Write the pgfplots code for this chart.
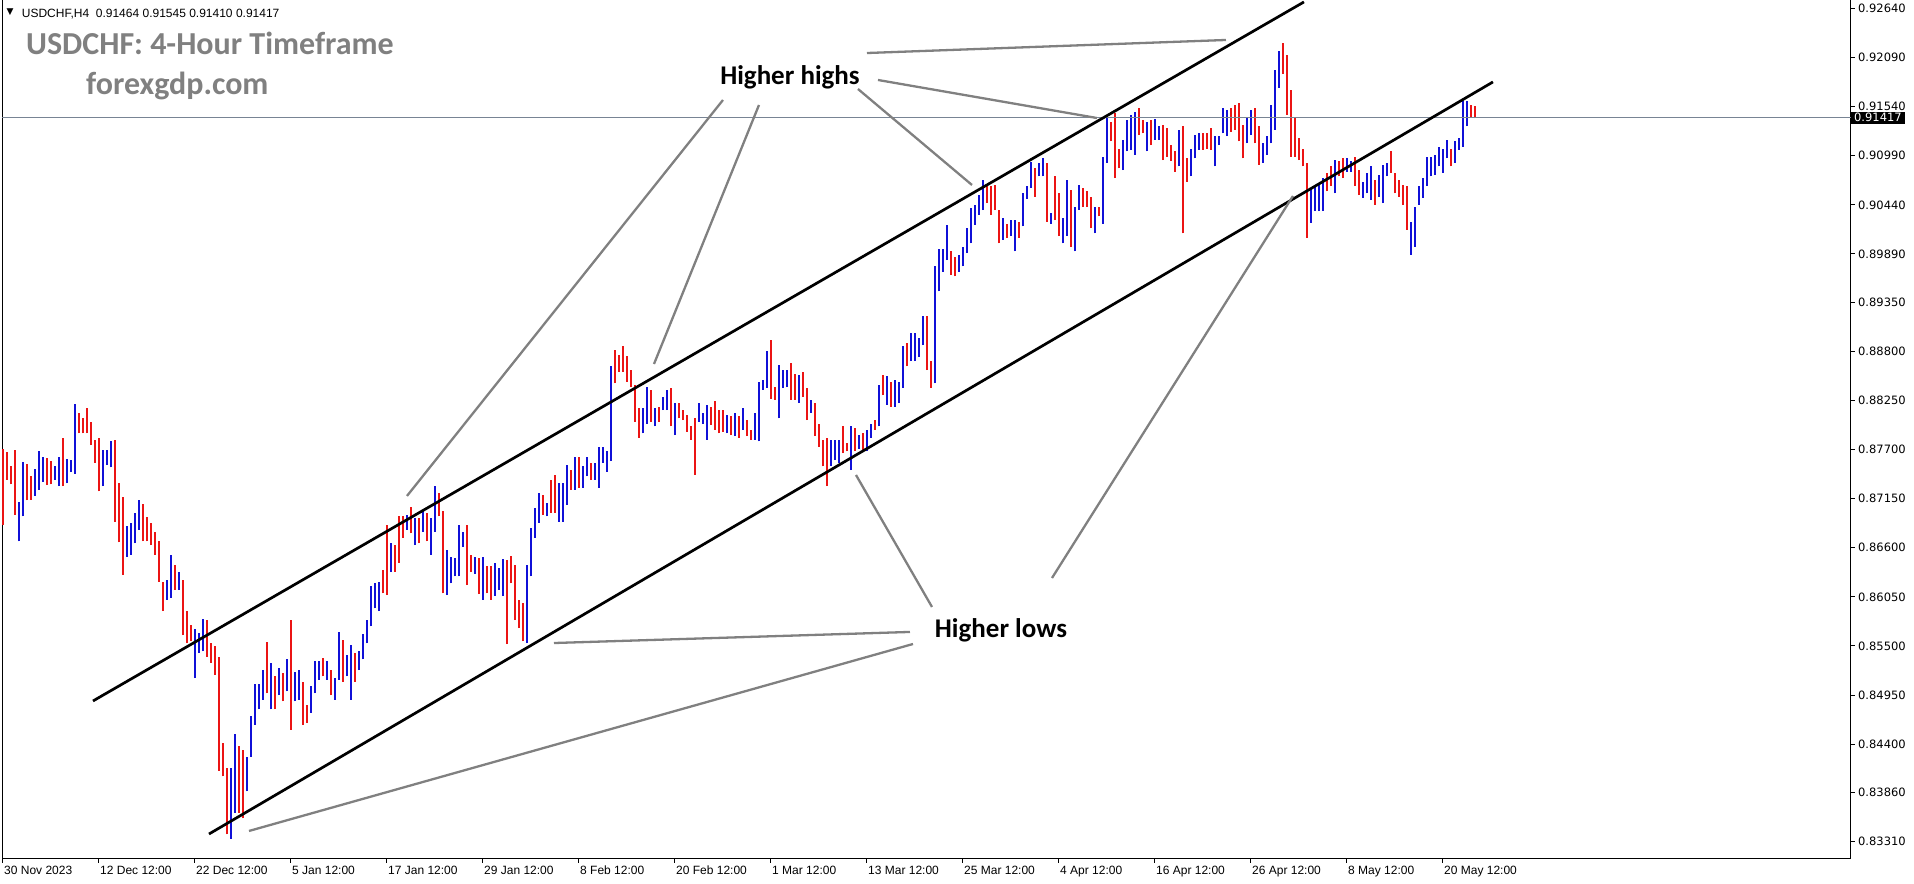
\documentclass[border=0pt]{standalone}
\usepackage{fontspec}
\setmainfont{Liberation Sans}
\newfontfamily\scalefont{DejaVu Sans}
\newfontfamily\notefont{Carlito}
\usepackage{pgfplots}
\usepackage{pgfplotstable}
\pgfplotsset{compat=1.18}

\definecolor{upblue}{RGB}{16,16,215}
\definecolor{downred}{RGB}{235,20,20}
\definecolor{notegray}{RGB}{128,128,128}
\definecolor{askline}{RGB}{120,132,148}

% USDCHF H4, one row per two bars: x, high, low, up (1) / down (0)
\pgfplotstableread{
x hi lo up
0 0.8771 0.8685 0
2 0.8767 0.8736 0
4 0.8752 0.8731 0
6 0.8770 0.8697 0
8 0.8711 0.8667 1
10 0.8756 0.8695 1
12 0.8754 0.8713 0
14 0.8740 0.8714 0
16 0.8748 0.8718 1
18 0.8768 0.8725 1
20 0.8762 0.8734 1
22 0.8760 0.8730 0
24 0.8757 0.8731 0
26 0.8751 0.8736 1
28 0.8762 0.8729 1
30 0.8783 0.8729 0
32 0.8759 0.8732 1
34 0.8758 0.8745 1
36 0.8821 0.8743 1
38 0.8811 0.8788 0
40 0.8805 0.8788 0
42 0.8816 0.8788 0
44 0.8801 0.8775 0
46 0.8781 0.8755 0
48 0.8783 0.8723 0
50 0.8770 0.8729 1
52 0.8770 0.8753 1
54 0.8779 0.8750 1
56 0.8781 0.8689 0
58 0.8732 0.8666 0
60 0.8717 0.8630 0
62 0.8684 0.8650 1
64 0.8688 0.8652 1
66 0.8699 0.8665 1
68 0.8713 0.8680 1
70 0.8709 0.8667 0
72 0.8694 0.8667 0
74 0.8688 0.8663 0
76 0.8678 0.8652 0
78 0.8667 0.8622 0
80 0.8622 0.8589 0
82 0.8624 0.8602 1
84 0.8652 0.8604 1
86 0.8641 0.8613 0
88 0.8633 0.8613 1
90 0.8624 0.8562 0
92 0.8589 0.8553 0
94 0.8574 0.8555 0
96 0.8569 0.8514 1
98 0.8564 0.8542 1
100 0.8580 0.8544 1
102 0.8579 0.8538 0
104 0.8553 0.8531 0
106 0.8550 0.8518 0
108 0.8538 0.8410 0
110 0.8441 0.8404 0
112 0.8413 0.8339 0
114 0.8413 0.8334 1
116 0.8451 0.8363 1
118 0.8438 0.8363 0
120 0.8434 0.8357 0
122 0.8426 0.8387 1
124 0.8471 0.8426 1
126 0.8507 0.8462 1
128 0.8507 0.8479 1
130 0.8523 0.8490 1
132 0.8555 0.8497 0
134 0.8531 0.8479 1
136 0.8516 0.8479 0
138 0.8525 0.8495 1
140 0.8520 0.8488 0
142 0.8535 0.8499 1
144 0.8579 0.8456 0
146 0.8521 0.8488 1
148 0.8523 0.8490 1
150 0.8510 0.8462 0
152 0.8484 0.8464 0
154 0.8505 0.8475 1
156 0.8533 0.8497 1
158 0.8533 0.8512 1
160 0.8536 0.8516 0
162 0.8533 0.8512 1
164 0.8523 0.8495 0
166 0.8514 0.8490 1
168 0.8566 0.8512 1
170 0.8557 0.8510 0
172 0.8540 0.8516 1
174 0.8551 0.8490 1
176 0.8542 0.8510 0
178 0.8544 0.8523 1
180 0.8563 0.8535 1
182 0.8579 0.8553 1
184 0.8617 0.8572 1
186 0.8620 0.8592 1
188 0.8622 0.8589 1
190 0.8635 0.8609 0
192 0.8686 0.8607 0
194 0.8665 0.8633 1
196 0.8663 0.8633 0
198 0.8695 0.8643 0
200 0.8695 0.8671 0
202 0.8697 0.8680 1
204 0.8706 0.8676 0
206 0.8693 0.8663 1
208 0.8693 0.8665 0
210 0.8701 0.8678 1
212 0.8699 0.8667 0
214 0.8693 0.8652 1
216 0.8729 0.8678 1
218 0.8721 0.8695 0
220 0.8701 0.8609 0
222 0.8658 0.8607 1
224 0.8650 0.8620 1
226 0.8648 0.8628 1
228 0.8686 0.8628 1
230 0.8678 0.8661 1
232 0.8686 0.8618 0
234 0.8652 0.8633 0
236 0.8650 0.8631 1
238 0.8648 0.8608 0
240 0.8650 0.8602 1
242 0.8639 0.8609 0
244 0.8640 0.8602 0
246 0.8643 0.8606 1
248 0.8637 0.8613 1
250 0.8647 0.8606 1
252 0.8646 0.8552 0
254 0.8651 0.8620 0
256 0.8641 0.8579 0
258 0.8602 0.8570 0
260 0.8598 0.8555 0
262 0.8641 0.8553 1
264 0.8682 0.8628 1
266 0.8704 0.8671 1
268 0.8721 0.8688 1
270 0.8719 0.8697 0
272 0.8710 0.8695 1
274 0.8736 0.8699 0
276 0.8742 0.8699 0
278 0.8732 0.8689 1
280 0.8732 0.8689 1
282 0.8753 0.8708 1
284 0.8747 0.8725 0
286 0.8762 0.8725 1
288 0.8762 0.8727 0
290 0.8751 0.8727 1
292 0.8762 0.8740 1
294 0.8755 0.8736 0
296 0.8755 0.8736 1
298 0.8773 0.8727 1
300 0.8773 0.8755 1
302 0.8768 0.8745 1
304 0.8863 0.8757 1
306 0.8882 0.8844 0
308 0.8876 0.8857 0
310 0.8886 0.8857 0
312 0.8875 0.8846 0
314 0.8859 0.8840 0
316 0.8842 0.8801 0
318 0.8816 0.8783 0
320 0.8816 0.8788 1
322 0.8840 0.8799 1
324 0.8837 0.8801 0
326 0.8816 0.8796 1
328 0.8818 0.8801 0
330 0.8829 0.8814 1
332 0.8837 0.8814 1
334 0.8839 0.8796 0
336 0.8822 0.8786 1
338 0.8822 0.8805 0
340 0.8814 0.8803 0
342 0.8809 0.8790 0
344 0.8796 0.8781 0
346 0.8805 0.8742 0
348 0.8822 0.8801 1
350 0.8811 0.8799 1
352 0.8820 0.8781 1
354 0.8818 0.8798 0
356 0.8824 0.8792 0
358 0.8814 0.8788 0
360 0.8814 0.8790 0
362 0.8809 0.8788 1
364 0.8807 0.8786 0
366 0.8811 0.8785 1
368 0.8807 0.8783 0
370 0.8816 0.8792 1
372 0.8803 0.8785 0
374 0.8792 0.8781 0
376 0.8811 0.8781 1
378 0.8846 0.8779 1
380 0.8848 0.8837 1
382 0.8880 0.8839 1
384 0.8893 0.8827 0
386 0.8840 0.8826 0
388 0.8865 0.8805 1
390 0.8859 0.8839 1
392 0.8859 0.8840 1
394 0.8867 0.8826 0
396 0.8855 0.8826 0
398 0.8854 0.8822 1
400 0.8857 0.8829 0
402 0.8839 0.8803 0
404 0.8826 0.8811 1
406 0.8822 0.8785 0
408 0.8799 0.8773 0
410 0.8781 0.8751 0
412 0.8783 0.8729 0
414 0.8781 0.8751 1
416 0.8781 0.8758 1
418 0.8781 0.8755 1
420 0.8796 0.8766 0
422 0.8777 0.8768 0
424 0.8796 0.8747 1
426 0.8794 0.8768 0
428 0.8786 0.8771 1
430 0.8788 0.8768 0
432 0.8792 0.8768 1
434 0.8799 0.8783 1
436 0.8803 0.8792 0
438 0.8842 0.8796 1
440 0.8854 0.8831 0
442 0.8852 0.8820 1
444 0.8846 0.8818 0
446 0.8848 0.8818 1
448 0.8846 0.8822 1
450 0.8886 0.8839 1
452 0.8889 0.8863 0
454 0.8901 0.8869 1
456 0.8901 0.8869 1
458 0.8895 0.8874 1
460 0.8919 0.8887 1
462 0.8919 0.8859 0
464 0.8869 0.8839 0
466 0.8975 0.8844 1
468 0.8995 0.8947 1
470 0.8995 0.8969 1
472 0.9022 0.8982 1
474 0.8992 0.8966 0
476 0.8986 0.8964 0
478 0.8988 0.8969 1
480 0.8997 0.8975 1
482 0.9018 0.8990 1
484 0.9040 0.9001 1
486 0.9044 0.9022 1
488 0.9055 0.9033 1
490 0.9072 0.9038 1
492 0.9066 0.9046 0
494 0.9065 0.9033 0
496 0.9066 0.9038 0
498 0.9038 0.9001 0
500 0.9029 0.9005 1
502 0.9023 0.9007 0
504 0.9027 0.9009 1
506 0.9027 0.8992 1
508 0.9025 0.9007 0
510 0.9057 0.9020 1
512 0.9065 0.9051 1
514 0.9092 0.9063 1
516 0.9085 0.9053 0
518 0.9091 0.9076 1
520 0.9096 0.9076 1
522 0.9091 0.9025 0
524 0.9035 0.9023 1
526 0.9076 0.9027 0
528 0.9057 0.9009 0
530 0.9029 0.9001 1
532 0.9072 0.9009 1
534 0.9061 0.8997 0
536 0.9042 0.8992 1
538 0.9066 0.9038 1
540 0.9063 0.9042 0
542 0.9059 0.9042 0
544 0.9053 0.9018 0
546 0.9042 0.9012 1
548 0.9042 0.9031 0
550 0.9098 0.9023 1
552 0.9145 0.9091 1
554 0.9137 0.9115 0
556 0.9147 0.9074 0
558 0.9107 0.9085 0
560 0.9117 0.9083 1
562 0.9139 0.9104 1
564 0.9145 0.9106 1
566 0.9148 0.9100 1
568 0.9152 0.9122 0
570 0.9139 0.9124 0
572 0.9137 0.9104 1
574 0.9139 0.9111 0
576 0.9140 0.9117 1
578 0.9132 0.9117 1
580 0.9134 0.9094 0
582 0.9130 0.9098 0
584 0.9111 0.9093 0
586 0.9104 0.9081 0
588 0.9128 0.9087 1
590 0.9132 0.9012 0
592 0.9096 0.9070 0
594 0.9107 0.9076 1
596 0.9122 0.9096 1
598 0.9124 0.9106 1
600 0.9124 0.9106 0
602 0.9124 0.9107 0
604 0.9130 0.9106 0
606 0.9121 0.9087 1
608 0.9121 0.9111 1
610 0.9153 0.9124 1
612 0.9150 0.9121 1
614 0.9152 0.9126 0
616 0.9156 0.9128 0
618 0.9158 0.9115 0
620 0.9134 0.9096 0
622 0.9141 0.9113 1
624 0.9150 0.9122 1
626 0.9152 0.9113 0
628 0.9132 0.9089 0
630 0.9113 0.9091 1
632 0.9121 0.9100 1
634 0.9156 0.9113 1
636 0.9195 0.9128 1
638 0.9216 0.9175 1
640 0.9225 0.9191 0
642 0.9212 0.9145 0
644 0.9173 0.9098 0
646 0.9141 0.9098 0
648 0.9119 0.9094 0
650 0.9107 0.9087 0
652 0.9091 0.9007 0
654 0.9063 0.9024 1
656 0.9065 0.9037 1
658 0.9068 0.9037 1
660 0.9074 0.9037 1
662 0.9080 0.9059 0
664 0.9087 0.9065 0
666 0.9094 0.9057 1
668 0.9093 0.9076 0
670 0.9096 0.9074 0
672 0.9096 0.9081 1
674 0.9093 0.9081 1
676 0.9098 0.9065 0
678 0.9083 0.9055 0
680 0.9070 0.9052 1
682 0.9080 0.9057 1
684 0.9087 0.9050 1
686 0.9072 0.9044 0
688 0.9078 0.9053 1
690 0.9089 0.9046 1
692 0.9091 0.9076 1
694 0.9104 0.9080 0
696 0.9080 0.9057 0
698 0.9072 0.9053 0
700 0.9066 0.9044 0
702 0.9065 0.9016 0
704 0.9025 0.8988 1
706 0.9042 0.8997 1
708 0.9065 0.9044 1
710 0.9074 0.9052 1
712 0.9098 0.9065 1
714 0.9098 0.9076 1
716 0.9100 0.9078 1
718 0.9109 0.9087 1
720 0.9107 0.9080 1
722 0.9117 0.9096 1
724 0.9107 0.9087 0
726 0.9115 0.9091 1
728 0.9119 0.9106 1
730 0.9160 0.9109 1
732 0.9160 0.9132 1
734 0.9156 0.9142 0
736 0.9155 0.9141 0
}\bars

\begin{document}
\begin{tikzpicture}
\useasboundingbox (0,0) rectangle (1914bp,884bp);
\begin{axis}[
  at={(2bp,25bp)}, anchor=south west,
  scale only axis, width=1849bp, height=859bp,
  xmin=-0.5, xmax=924, ymin=0.83114, ymax=0.92735,
  clip=false,
  axis line style={line width=1bp},
  tick align=outside, major tick length=4bp,
  every tick/.style={black, line width=1bp},
  xtick pos=bottom, ytick pos=right, yticklabel pos=right,
  xtick={0,48,...,720},
  xticklabels={30 Nov 2023, 12 Dec 12:00, 22 Dec 12:00, 5 Jan 12:00, 17 Jan 12:00, 29 Jan 12:00, 8 Feb 12:00, 20 Feb 12:00, 1 Mar 12:00, 13 Mar 12:00, 25 Mar 12:00, 4 Apr 12:00, 16 Apr 12:00, 26 Apr 12:00, 8 May 12:00, 20 May 12:00},
  xticklabel style={font=\fontsize{12bp}{12bp}\selectfont, anchor=north west, inner sep=0pt, xshift=1bp, yshift=-3bp},
  ytick={0.8331,0.8386,0.8440,0.8495,0.8550,0.8605,0.8660,0.8715,0.8770,0.8825,0.8880,0.8935,0.8989,0.9044,0.9099,0.9154,0.9209,0.9264},
  scaled y ticks=false,
  yticklabel style={font=\scalefont\fontsize{11.5bp}{12bp}\selectfont, anchor=west, inner sep=0pt, xshift=3bp,
    /pgf/number format/.cd, fixed, fixed zerofill, precision=5, assume math mode=true},
]
% bars: vertical low-high strokes, no markers
\addplot[draw=none, mark=none, forget plot,
  restrict expr to domain={\thisrow{up}}{0.5:1.5},
  error bars/.cd, y dir=plus, y explicit, error mark=none,
  error bar style={draw=upblue, line width=1.8bp}]
  table[x=x, y=lo, y error expr=\thisrow{hi}-\thisrow{lo}] {\bars};
\addplot[draw=none, mark=none, forget plot,
  restrict expr to domain={\thisrow{up}}{-0.5:0.5},
  error bars/.cd, y dir=plus, y explicit, error mark=none,
  error bar style={draw=downred, line width=1.8bp}]
  table[x=x, y=lo, y error expr=\thisrow{hi}-\thisrow{lo}] {\bars};

% current price line
\addplot[askline, line width=1bp] coordinates {(-0.5,0.91417) (924,0.91417)};

% channel
\addplot[black, line width=2.7bp] coordinates {(45,0.84884) (650.5,0.92713)};
\addplot[black, line width=2.7bp] coordinates {(103,0.83394) (745,0.91817)};

% pointers
\addplot[notegray, line width=2.3bp] coordinates {(432,0.92141) (611.5,0.92287)};
\addplot[notegray, line width=2.3bp] coordinates {(437.5,0.91839) (547,0.91413)};
\addplot[notegray, line width=2.3bp] coordinates {(427.5,0.91738) (484.5,0.90663)};
\addplot[notegray, line width=2.3bp] coordinates {(360,0.91615) (202,0.87180)};
\addplot[notegray, line width=2.3bp] coordinates {(378,0.91559) (325.5,0.88658)};
\addplot[notegray, line width=2.3bp] coordinates {(453.5,0.85657) (275.5,0.85533)};
\addplot[notegray, line width=2.3bp] coordinates {(455,0.85522) (123,0.83428)};
\addplot[notegray, line width=2.3bp] coordinates {(464.5,0.85937) (426.5,0.87415)};
\addplot[notegray, line width=2.3bp] coordinates {(524.5,0.86261) (645,0.90540)};

\node[font=\notefont\bfseries\fontsize{27bp}{27bp}\selectfont] at (axis cs:393.5,0.91873) {Higher highs};
\node[font=\notefont\bfseries\fontsize{27bp}{27bp}\selectfont] at (axis cs:499,0.85679) {Higher lows};

\node[fill=black, text=white, anchor=west, inner xsep=3bp, inner ysep=1.5bp,
  font=\scalefont\fontsize{11.5bp}{12bp}\selectfont] at (axis cs:924,0.91417) {0.91417};
\end{axis}

\node[font=\scalefont\fontsize{9bp}{9bp}\selectfont] at (10bp,872bp) {▼};
\node[anchor=base west, inner sep=0pt, font=\fontsize{12bp}{12bp}\selectfont] at (21.7bp,866.7bp)
  {USDCHF,H4\ \ 0.91464 0.91545 0.91410 0.91417};
\node[anchor=base west, inner sep=0pt, text=notegray, font=\notefont\bfseries\fontsize{32bp}{32bp}\selectfont] at (26bp,829bp)
  {USDCHF: 4-Hour Timeframe};
\node[anchor=base west, inner sep=0pt, text=notegray, font=\notefont\bfseries\fontsize{32bp}{32bp}\selectfont] at (86bp,789bp)
  {forexgdp.com};
\end{tikzpicture}
\end{document}
